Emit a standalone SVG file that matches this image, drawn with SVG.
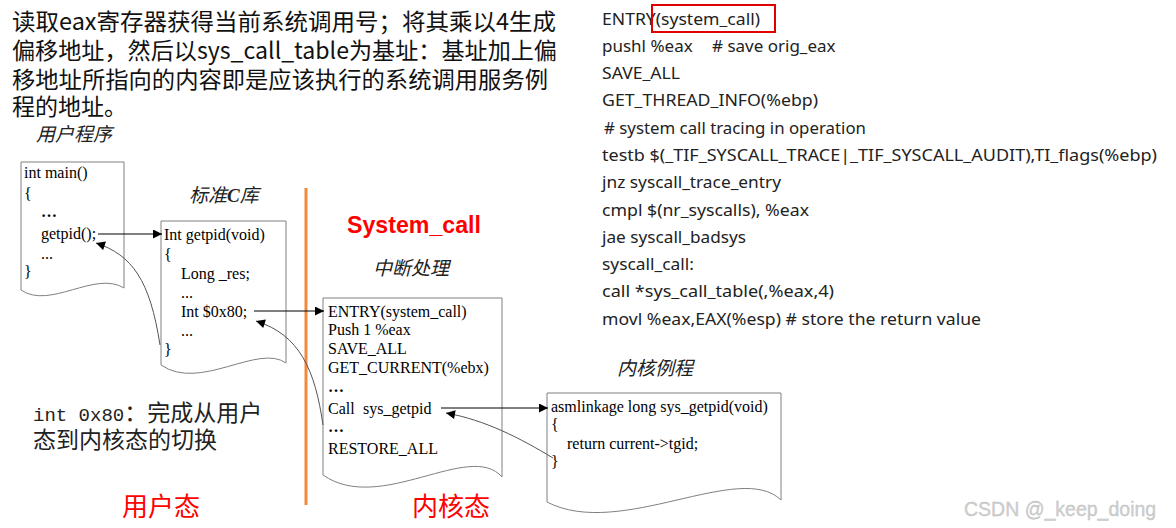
<svg xmlns="http://www.w3.org/2000/svg" width="1176" height="528" viewBox="0 0 1176 528">
<defs>
<marker id="ah" viewBox="0 0 10 10" refX="10" refY="5" markerWidth="10" markerHeight="9" markerUnits="userSpaceOnUse" orient="auto">
<path d="M0,0 L10,5 L0,10 Z" fill="#000"/>
</marker>
<style>
.cjk{font-family:"Noto Sans CJK SC","Noto Sans",sans-serif;}
.head{font-size:23px;fill:#111;}
.lbl{font-size:19px;fill:#222;font-style:italic;}
.doc{fill:#fff;stroke:#808080;stroke-width:1;}
.code{font-family:"Liberation Serif",serif;font-size:16px;fill:#000;}
.rc{font-family:"Noto Sans","Liberation Sans",sans-serif;font-size:17px;fill:#222;}
.st{font-size:26px;fill:#ff0000;}
.conn{fill:none;stroke:#000;stroke-width:1;}
.ret{fill:none;stroke:#555;stroke-width:1;}
</style>
</defs>
<rect width="1176" height="528" fill="#fff"/>

<g id="header" class="cjk head">
<text x="12" y="30" textLength="544" lengthAdjust="spacingAndGlyphs">读取eax寄存器获得当前系统调用号；将其乘以4生成</text>
<text x="12" y="59" textLength="545" lengthAdjust="spacingAndGlyphs">偏移地址，然后以sys_call_table为基址：基址加上偏</text>
<text x="12" y="88" textLength="536" lengthAdjust="spacingAndGlyphs">移地址所指向的内容即是应该执行的系统调用服务例</text>
<text x="12" y="115">程的地址。</text>
</g>

<g id="labels">
<text class="cjk lbl" x="36" y="141">用户程序</text>
<text class="cjk lbl" x="189" y="202">标准<tspan font-family="Liberation Serif" font-weight="bold">C</tspan>库</text>
<text class="cjk lbl" x="373" y="275">中断处理</text>
<text class="cjk lbl" x="617" y="375">内核例程</text>
<text x="347" y="233" font-family="Liberation Sans, sans-serif" font-weight="bold" font-size="24" fill="#ff0000" textLength="134" lengthAdjust="spacingAndGlyphs">System_call</text>
<text class="cjk st" x="122" y="516">用户态</text>
<text class="cjk st" x="412" y="516">内核态</text>
<text class="cjk" x="33" y="421" font-size="23" fill="#222"><tspan font-family="Liberation Mono, monospace" font-size="19">int 0x80</tspan>：完成从用户</text>
<text class="cjk" x="33" y="448" font-size="23" fill="#222">态到内核态的切换</text>
</g>

<line id="divider" x1="306" y1="188" x2="306" y2="505" stroke="#f08a3c" stroke-width="3"/>

<g id="node-main">
<path class="doc" d="M21,162 H124 V288 C95,270 50,310 21,290 Z"/>
<g class="code">
<text x="24" y="178">int main()</text>
<text x="24" y="199">{</text>
<text x="41" y="217" font-weight="bold">…</text>
<text x="41" y="239">getpid();</text>
<text x="41" y="259">...</text>
<text x="24" y="277">}</text>
</g>
</g>

<g id="node-libc">
<path class="doc" d="M161,221 H286 V363 C258,343 200,392 161,365 Z"/>
<g class="code">
<text x="164" y="240">Int getpid(void)</text>
<text x="164" y="260">{</text>
<text x="181" y="279">Long _res;</text>
<text x="181" y="298">...</text>
<text x="181" y="317">Int $0x80;</text>
<text x="181" y="336">...</text>
<text x="164" y="355">}</text>
</g>
</g>

<g id="node-syscall">
<path class="doc" d="M323,298 H502 V477 C470,440 380,515 323,475 Z"/>
<g class="code">
<text x="328" y="317">ENTRY(system_call)</text>
<text x="328" y="335">Push 1 %eax</text>
<text x="328" y="354">SAVE_ALL</text>
<text x="328" y="373">GET_CURRENT(%ebx)</text>
<text x="328" y="392" font-weight="bold">…</text>
<text x="328" y="414">Call<tspan x="363">sys_getpid</tspan></text>
<text x="328" y="432" font-weight="bold">…</text>
<text x="328" y="454">RESTORE_ALL</text>
</g>
</g>

<g id="node-kernel">
<path class="doc" d="M547,393 H781 V500 C740,460 620,540 547,502 Z"/>
<g class="code">
<text x="551" y="412">asmlinkage long sys_getpid(void)</text>
<text x="551" y="430">{</text>
<text x="567" y="449">return current-&gt;tgid;</text>
<text x="551" y="467">}</text>
</g>
</g>

<g id="connectors">
<line class="conn" x1="98" y1="234" x2="162" y2="234" marker-end="url(#ah)"/>
<path class="ret" d="M160,345 C150,280 132,255 96,243" marker-end="url(#ah)"/>
<line class="conn" x1="254" y1="311" x2="324" y2="311" marker-end="url(#ah)"/>
<path class="ret" d="M323,425 C315,370 300,335 256,321" marker-end="url(#ah)"/>
<line class="conn" x1="441" y1="408" x2="548" y2="408" marker-end="url(#ah)"/>
<path class="ret" d="M553,458 C520,438 485,420 446,413" marker-end="url(#ah)"/>
</g>

<g id="code-panel" class="rc">
<text x="602" y="25" textLength="158" lengthAdjust="spacingAndGlyphs">ENTRY(system_call)</text>
<rect x="652" y="5" width="123" height="27" fill="none" stroke="#e00000" stroke-width="2"/>
<text x="602" y="52">pushl %eax</text>
<text x="712" y="52"># save orig_eax</text>
<text x="602" y="79" textLength="78" lengthAdjust="spacingAndGlyphs">SAVE_ALL</text>
<text x="602" y="106" textLength="216" lengthAdjust="spacingAndGlyphs">GET_THREAD_INFO(%ebp)</text>
<text x="604" y="134" textLength="262" lengthAdjust="spacingAndGlyphs"># system call tracing in operation</text>
<text x="602" y="161" textLength="555" lengthAdjust="spacingAndGlyphs">testb $(_TIF_SYSCALL_TRACE|_TIF_SYSCALL_AUDIT),TI_flags(%ebp)</text>
<text x="602" y="188" textLength="179" lengthAdjust="spacingAndGlyphs">jnz syscall_trace_entry</text>
<text x="602" y="216" textLength="207" lengthAdjust="spacingAndGlyphs">cmpl $(nr_syscalls), %eax</text>
<text x="602" y="243" textLength="144" lengthAdjust="spacingAndGlyphs">jae syscall_badsys</text>
<text x="602" y="270" textLength="92" lengthAdjust="spacingAndGlyphs">syscall_call:</text>
<text x="602" y="297" textLength="232" lengthAdjust="spacingAndGlyphs">call *sys_call_table(,%eax,4)</text>
<text x="602" y="325" textLength="379" lengthAdjust="spacingAndGlyphs">movl %eax,EAX(%esp) # store the return value</text>
</g>

<text id="watermark" x="964" y="516" font-family="Liberation Sans, sans-serif" font-size="19.5" fill="#cfcfcf" stroke="#bbbbbb" stroke-width="0.3">CSDN @_keep_doing</text>
</svg>
